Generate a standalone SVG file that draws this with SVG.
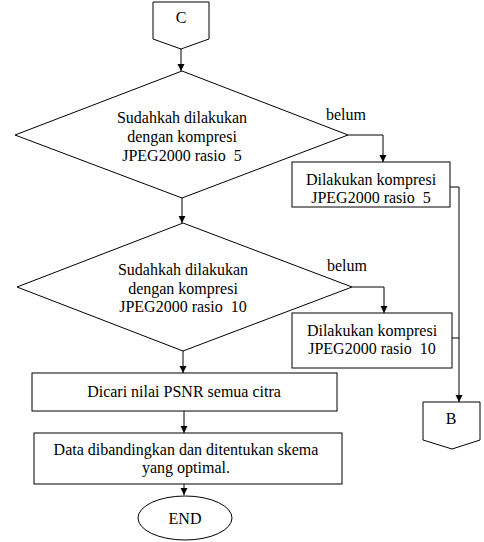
<svg xmlns="http://www.w3.org/2000/svg" width="484" height="542" viewBox="0 0 484 542">
<defs>
<style>
.s{fill:#fff;stroke:#000;stroke-width:1}
.c{fill:none;stroke:#000;stroke-width:1}
text{font-family:"Liberation Serif","Times New Roman",serif;font-size:16px;fill:#000;text-anchor:middle;white-space:pre}
</style>
<marker id="a" viewBox="0 0 10 10" refX="10" refY="5" markerWidth="7" markerHeight="9" markerUnits="userSpaceOnUse" orient="auto"><path d="M0,0L10,5L0,10z" fill="#000"/></marker>
</defs>
<rect width="484" height="542" fill="#fff"/>
<g id="connectors">
<path class="c" d="M181,49V71" marker-end="url(#a)"/>
<path class="c" d="M182,198V223" marker-end="url(#a)"/>
<path class="c" d="M348,135H383V162" marker-end="url(#a)"/>
<path class="c" d="M352,287H384V313" marker-end="url(#a)"/>
<path class="c" d="M450,187H459V402" marker-end="url(#a)"/>
<path class="c" d="M452,338H459"/>
<path class="c" d="M183,351V373" marker-end="url(#a)"/>
<path class="c" d="M184,411V433" marker-end="url(#a)"/>
<path class="c" d="M184,484V495" marker-end="url(#a)"/>
<text x="346" y="120">belum</text>
<text x="347" y="271">belum</text>
</g>
<g id="C">
<path class="s" d="M153,2H209V39L181,49L153,39Z"/>
<text x="181" y="23">C</text>
</g>
<g id="d1">
<path class="s" d="M182,71L348,135L182,198L15,135Z"/>
<text x="182" y="123">Sudahkah dilakukan</text>
<text x="182" y="142">dengan kompresi</text>
<text x="182" y="161" xml:space="preserve">JPEG2000 rasio  5</text>
</g>
<g id="p1">
<rect class="s" x="292" y="162" width="158" height="45"/>
<text x="371" y="185">Dilakukan kompresi</text>
<text x="371" y="203" xml:space="preserve">JPEG2000 rasio  5</text>
</g>
<g id="d2">
<path class="s" d="M183,223L352,287L183,351L17,287Z"/>
<text x="183" y="275">Sudahkah dilakukan</text>
<text x="183" y="294">dengan kompresi</text>
<text x="183" y="312" xml:space="preserve">JPEG2000 rasio  10</text>
</g>
<g id="p2">
<rect class="s" x="292" y="313" width="160" height="55"/>
<text x="372" y="336">Dilakukan kompresi</text>
<text x="372" y="354" xml:space="preserve">JPEG2000 rasio  10</text>
</g>
<g id="B">
<path class="s" d="M423,402H480V440L452,449L423,440Z"/>
<text x="451" y="424">B</text>
</g>
<g id="p3">
<rect class="s" x="32" y="373" width="305" height="38"/>
<text x="184" y="397">Dicari nilai PSNR semua citra</text>
</g>
<g id="p4">
<rect class="s" x="34" y="433" width="308" height="51"/>
<text x="186" y="455">Data dibandingkan dan ditentukan skema</text>
<text x="186" y="473">yang optimal.</text>
</g>
<g id="end">
<ellipse class="s" cx="185" cy="518" rx="47" ry="22"/>
<text x="185" y="524">END</text>
</g>
</svg>
